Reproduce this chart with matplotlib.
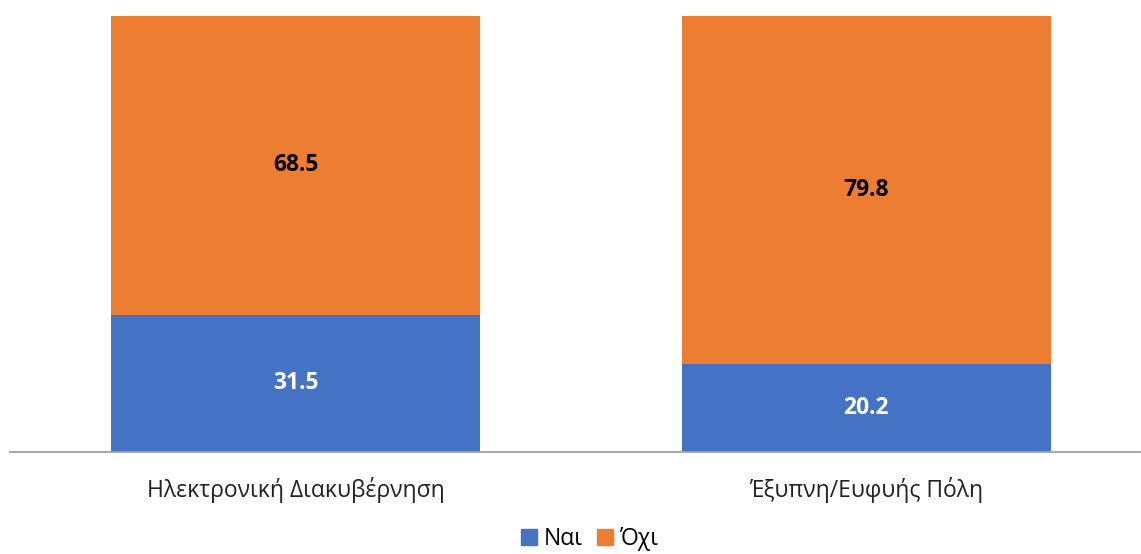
import matplotlib
matplotlib.use("Agg")
import matplotlib.pyplot as plt
from matplotlib.patches import Patch

plt.rcParams['font.family'] = ['Open Sans', 'DejaVu Sans']

categories = ['Ηλεκτρονική Διακυβέρνηση', 'Έξυπνη/Ευφυής Πόλη']
nai = [31.5, 20.2]
oxi = [68.5, 79.8]
series_names = ['Ναι', 'Όχι']

blue = '#4472C4'
orange = '#ED7D31'

fig = plt.figure(figsize=(11.41, 5.54), dpi=100)
ax = fig.add_axes([10/1141, 1 - 452/554, 1130/1141, 436/554])

x = [0, 1]
w = 0.647
ax.bar(x, nai, width=w, color=blue)
ax.bar(x, oxi, width=w, bottom=nai, color=orange)

for i in range(len(x)):
    ax.text(x[i], nai[i] / 2, f'{nai[i]:.1f}', ha='center', va='center',
            color='white', fontsize=16.5, fontweight='bold')
    ax.text(x[i], nai[i] + oxi[i] / 2, f'{oxi[i]:.1f}', ha='center', va='center',
            color='black', fontsize=16.5, fontweight='bold')

ax.set_xlim(-0.5006, 1.48)
ax.set_ylim(0, 100)
ax.set_yticks([])
ax.set_xticks(x)
ax.set_xticklabels(categories, fontsize=16.5, color='#222222')
ax.tick_params(axis='x', length=0, pad=18)
for s in ['top', 'left', 'right']:
    ax.spines[s].set_visible(False)
ax.spines['bottom'].set_color('#A0A0A0')
ax.spines['bottom'].set_linewidth(1.3)

handles = [Patch(color=blue), Patch(color=orange)]
fig.legend(handles, series_names, loc='center', bbox_to_anchor=(0.517, 1 - 539/554),
           ncol=2, frameon=False, fontsize=16.5, handlelength=0.7, handleheight=0.7,
           handletextpad=0.3, columnspacing=0.6, borderpad=0.1)

fig.savefig('out.png', dpi=100)
